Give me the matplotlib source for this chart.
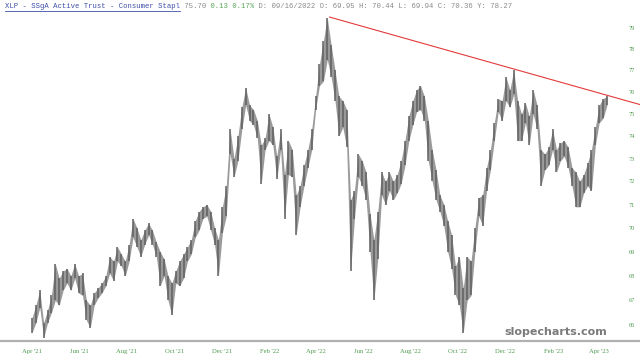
import numpy as np
import pandas as pd
import matplotlib
matplotlib.use("Agg")
import matplotlib.pyplot as plt
import matplotlib.dates as mdates
from matplotlib.lines import Line2D

# ---------------- data ----------------
start_date = "2021-04-01"
n_samples = 149
highs = [66.3, 66.8, 67.4, 66.1, 66.6, 67.2, 68.5, 67.9, 68.2, 68.3,
         68.0, 68.5, 68.0, 68.1, 67.0, 66.8, 67.3, 67.5, 67.7, 68.0,
         68.8, 68.6, 69.2, 68.9, 68.6, 69.3, 70.4, 70.0, 69.5, 69.9,
         70.2, 69.9, 69.4, 69.0, 68.7, 68.0, 67.7, 68.2, 68.6, 68.9,
         69.2, 69.5, 70.3, 70.7, 70.9, 71.0, 70.7, 70.0, 69.5, 70.9,
         71.8, 74.3, 73.0, 74.0, 75.3, 76.2, 75.4, 75.2, 74.7, 73.6,
         73.9, 75.0, 74.4, 73.1, 74.3, 72.3, 73.8, 73.4, 71.4, 71.8,
         72.7, 73.4, 74.3, 75.8, 77.3, 78.4, 79.5, 78.2, 77.0, 75.8,
         75.6, 75.2, 71.2, 71.6, 73.2, 72.9, 72.4, 70.6, 69.5, 70.7,
         72.4, 72.0, 72.4, 72.0, 72.3, 72.9, 73.8, 74.9, 75.6, 76.1,
         76.3, 75.8, 74.7, 73.4, 72.5, 71.4, 71.0, 70.3, 69.7, 68.4,
         68.8, 67.5, 68.8, 68.6, 70.0, 71.3, 71.4, 72.6, 73.4, 74.6,
         75.7, 75.6, 76.7, 76.1, 77.0, 75.6, 75.0, 75.5, 74.9, 76.1,
         75.4, 73.4, 73.2, 73.5, 74.3, 73.4, 73.7, 73.8, 73.5, 72.6,
         72.4, 72.0, 72.3, 72.8, 73.4, 74.4, 75.4, 75.7, 75.8]
lows = [65.7, 66.1, 66.7, 65.5, 66.1, 66.5, 67.0, 66.8, 67.4, 67.7,
        67.4, 67.9, 67.3, 67.2, 66.2, 65.9, 66.8, 67.1, 67.3, 67.6,
        68.1, 67.8, 68.6, 68.4, 68.0, 68.6, 69.6, 69.2, 68.8, 69.3,
        69.7, 69.3, 68.8, 67.6, 68.0, 67.0, 66.4, 67.7, 67.6, 67.9,
        68.6, 68.9, 69.6, 69.9, 70.4, 70.5, 69.9, 69.3, 68.0, 69.8,
        70.5, 73.2, 72.2, 72.9, 74.3, 75.4, 74.7, 74.5, 73.9, 71.9,
        73.4, 73.8, 73.6, 72.1, 73.4, 70.4, 72.3, 72.2, 69.7, 70.9,
        71.8, 72.6, 73.4, 75.2, 76.3, 76.5, 77.5, 76.7, 75.6, 74.0,
        74.4, 73.5, 68.2, 70.4, 72.2, 71.8, 71.2, 69.0, 67.0, 68.7,
        71.4, 71.0, 71.6, 71.2, 71.5, 71.9, 72.7, 73.8, 74.5, 75.1,
        75.2, 74.7, 72.9, 72.0, 71.2, 70.7, 70.1, 69.0, 68.3, 67.2,
        66.8, 65.7, 67.0, 67.2, 69.0, 70.5, 70.1, 71.6, 72.5, 73.8,
        75.1, 74.7, 75.6, 75.3, 75.9, 73.8, 73.8, 74.6, 73.6, 75.0,
        74.3, 71.8, 72.5, 72.7, 73.4, 72.4, 72.9, 73.1, 72.6, 71.8,
        70.9, 70.9, 71.5, 71.8, 71.6, 73.6, 74.6, 74.8, 75.4]

trend_dates = ["2022-04-19", "2022-12-13"]
trend_prices = [79.53, 77.06]

y_ticks = [66, 67, 68, 69, 70, 71, 72, 73, 74, 75, 76, 77, 78, 79]
x_tick_dates = ["2021-04-01", "2021-06-01", "2021-08-01", "2021-10-01",
                "2021-12-01", "2022-02-01", "2022-04-01", "2022-06-01",
                "2022-08-01", "2022-10-01", "2022-12-01", "2023-02-01",
                "2023-04-01"]
x_tick_labels = ["Apr '21", "Jun '21", "Aug '21", "Oct '21", "Dec '21",
                 "Feb '22", "Apr '22", "Jun '22", "Aug '22", "Oct '22",
                 "Dec '22", "Feb '23", "Apr '23"]

title_parts = [("XLP - SSgA Active Trust - Consumer Stapl", "#3d4fa8"),
               (" 75.70", "#8a8a8a"),
               (" 0.13 0.17%", "#5aa55a"),
               (" D: 09/16/2022 O: 69.95 H: 70.44 L: 69.94 C: 70.36 Y: 78.27", "#8a8a8a")]

# ---------------- figure ----------------
W, H = 640, 363
fig = plt.figure(figsize=(W / 100, H / 100), dpi=100)
fig.patch.set_facecolor("white")

ax_left, ax_right, ax_top, ax_bottom = 0, 615, 15, 340
ax = fig.add_axes([ax_left / W, 1 - ax_bottom / H,
                   (ax_right - ax_left) / W, (ax_bottom - ax_top) / H])

dates = pd.date_range(start_date, periods=n_samples, freq="5D")
xd = mdates.date2num(dates.to_pydatetime())
hi = np.array(highs)
lo = np.array(lows)

ax.fill_between(xd, lo, hi, color="#9a9a9a", lw=0, zorder=2)
ax.vlines(xd, lo, hi, color="#606060", lw=1.1, zorder=3)

ax.set_yscale("log")
ax.set_ylim(65.41, 79.63)
d0 = mdates.date2num(pd.Timestamp(start_date))
px_per_day = 0.777
ax.set_xlim(d0 - 32 / px_per_day, d0 + (615 - 32) / px_per_day)

# trendline, extended to the right edge of the figure
tx = mdates.date2num(pd.to_datetime(trend_dates).to_pydatetime())
lp = np.log(trend_prices)
slope = (lp[1] - lp[0]) / (tx[1] - tx[0])
x_end = d0 + (W - 32) / px_per_day
ax.plot([tx[0], x_end], np.exp([lp[0], lp[0] + slope * (x_end - tx[0])]),
        color="#e23b3b", lw=0.8, clip_on=False, zorder=4)

# axes styling
for s in ax.spines.values():
    s.set_visible(False)
ax.yaxis.tick_right()
ax.yaxis.set_major_locator(matplotlib.ticker.FixedLocator(y_ticks))
ax.yaxis.set_minor_locator(matplotlib.ticker.NullLocator())
ax.set_yticklabels([str(v) for v in y_ticks])
ax.set_xticks(mdates.date2num(pd.to_datetime(x_tick_dates).to_pydatetime()))
ax.set_xticklabels(x_tick_labels)
ax.tick_params(axis="y", length=0, pad=10, labelsize=4.5, labelcolor="#4f9a4f")
ax.tick_params(axis="x", length=0, pad=6.5, labelsize=4.8, labelcolor="#4f9a4f")
for lab in ax.get_xticklabels() + ax.get_yticklabels():
    lab.set_fontfamily("Liberation Serif")

# bottom gray rule
fig.add_artist(Line2D([0, 1], [1 - 340.5 / H] * 2, color="#b0b0b0", lw=1.6))

# watermark
fig.text(607 / W, 1 - 332 / H, "slopecharts.com", ha="right", va="center",
         fontsize=8, fontweight="bold", color="#7a7a7a", family="DejaVu Sans")

# header
fs = 5.25
char_w = fs * 100 / 72 * 0.6
x0 = 5
n = 0
for txt, col in title_parts:
    fig.text((x0 + n * char_w) / W, 1 - 7 / H, txt, ha="left", va="center",
             fontsize=fs, color=col, family="Liberation Mono")
    n += len(txt)
blue_len = len(title_parts[0][0]) * char_w
fig.add_artist(Line2D([x0 / W, (x0 + blue_len) / W], [1 - 11 / H] * 2,
                      color="#3d4fa8", lw=0.6))

fig.savefig("out.png", dpi=100)
